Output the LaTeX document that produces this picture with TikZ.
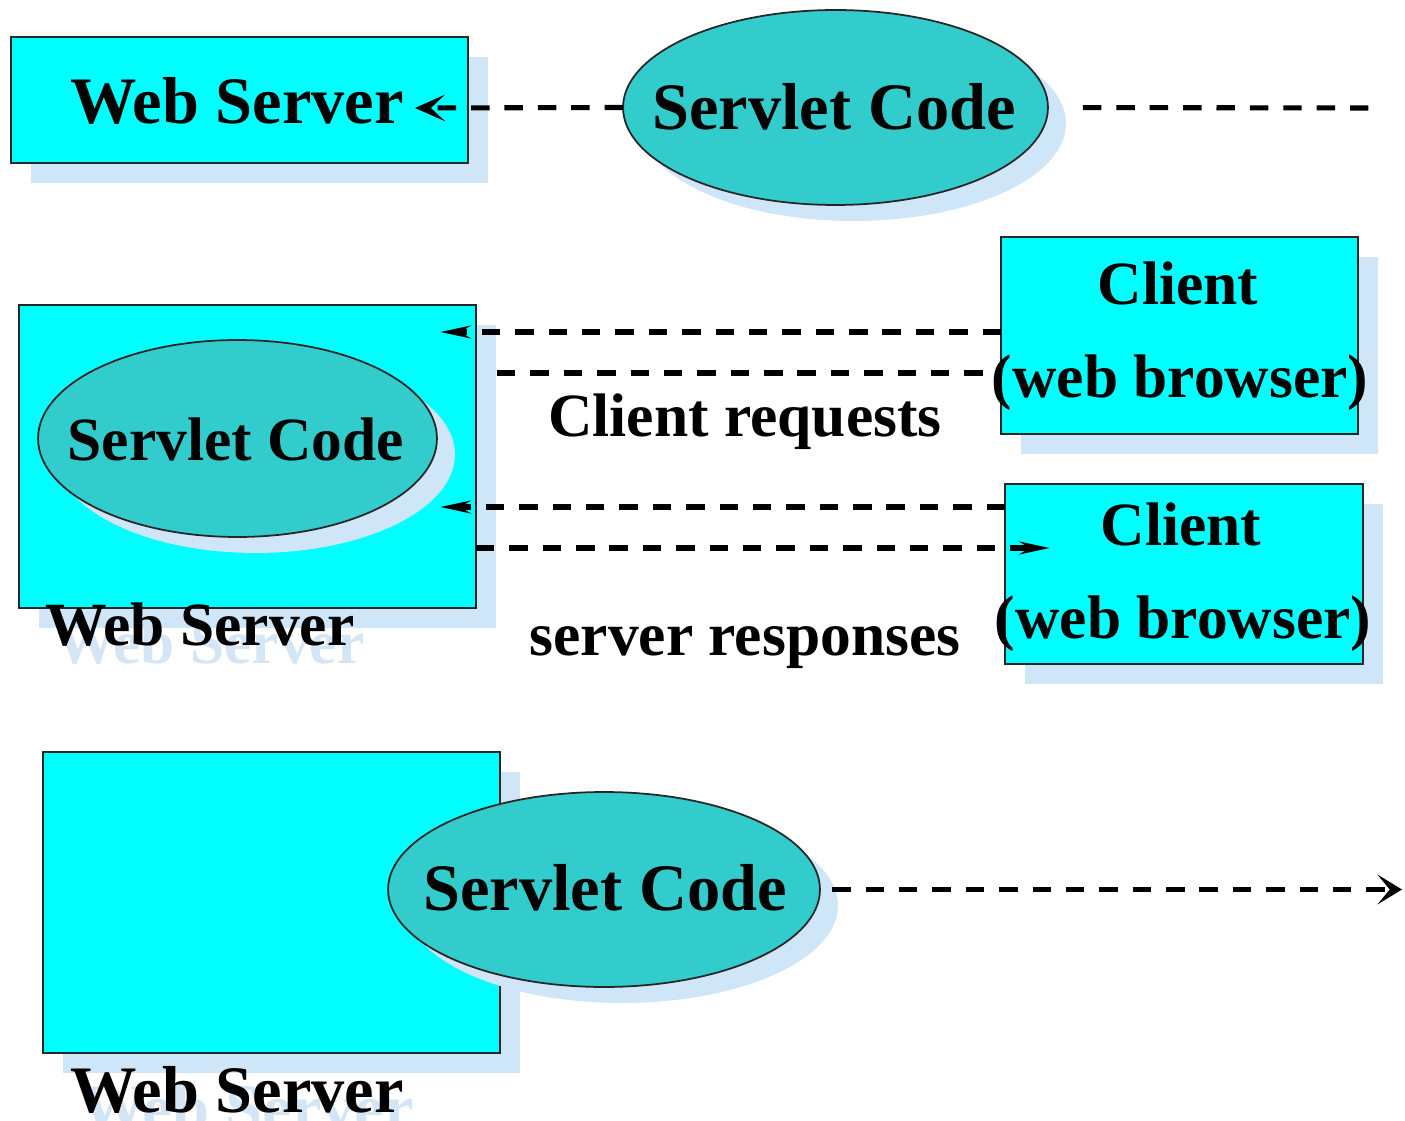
\documentclass[tikz,border=0pt]{standalone}
\usepackage{fontspec}
\setmainfont{Liberation Serif}
\usetikzlibrary{arrows.meta,shapes.geometric,shadows}

\definecolor{boxcyan}{HTML}{00FFFF}
\definecolor{servletteal}{HTML}{33CCCC}
\definecolor{shadowblue}{HTML}{CFE6F8}
\definecolor{ghosttext}{HTML}{D4E6F6}

\tikzset{
  every node/.style={inner sep=0pt, outer sep=0pt},
  softshadow/.style={drop shadow={shadow xshift=0.4cm, shadow yshift=-0.4cm,
      fill=shadowblue, opacity=1}},
  serverbox/.style={rectangle, draw=black!85, line width=1pt, fill=boxcyan, softshadow},
  servlet/.style={ellipse, draw=black!85, line width=1pt, fill=servletteal,
      drop shadow={shadow xshift=0.36cm, shadow yshift=-0.32cm, fill=shadowblue, opacity=1}},
  bigtxt/.style={anchor=base, font=\fontsize{37.8}{40}\selectfont\bfseries},
  midtxt/.style={anchor=base, font=\fontsize{35}{38}\selectfont\bfseries},
  ghost/.style={anchor=base, text=ghosttext},
  link/.style={line width=2.9pt, dash pattern=on 10.5pt off 8.5pt},
  chevron/.tip={Stealth[length=17pt, width=15pt, inset=8pt]},
  thintip/.tip={Stealth[length=17pt, width=7pt]},
}

\begin{document}
\begin{tikzpicture}[x=0.02cm, y=-0.02cm]
  \useasboundingbox[fill=white] (0,0) rectangle (1405,1121);

  % ---- servlet code being loaded into the web server ----
  \node[serverbox, minimum width=9.14cm, minimum height=2.52cm] (ws1) at (239.5,100) {};
  \node[bigtxt] (ws1t) at (237,124) {Web Server};
  \node[servlet, minimum width=8.5cm, minimum height=3.9cm] (se1) at (835.5,107.5) {};
  \node[bigtxt] (se1t) at (834,130) {Servlet Code};
  \coordinate (ws1in) at (415,108);
  \coordinate (ws1far) at (1370,108);

  % ---- servlet running inside the web server ----
  \node[midtxt, ghost] (ws2g) at (210,663) {Web Server};
  \node[serverbox, minimum width=9.14cm, minimum height=6.06cm] (ws2) at (247.5,456.5) {};
  \node[servlet, minimum width=7.98cm, minimum height=3.94cm] (se2) at (237.5,438.5) {};
  \node[midtxt] (se2t) at (236,460) {Servlet Code};
  \node[midtxt] (ws2t) at (200,645) {Web Server};

  \node[serverbox, minimum width=7.14cm, minimum height=3.94cm] (c1) at (1179.5,335.5) {};
  \node[midtxt] (c1t) at (1178,305) {Client};
  \node[midtxt] (c1b) at (1180,398) {(web browser)};

  \node[serverbox, minimum width=7.16cm, minimum height=3.6cm] (c2) at (1184,574) {};
  \node[midtxt] (c2t) at (1181,545) {Client};
  \node[midtxt] (c2b) at (1183,638) {(web browser)};

  \node[midtxt] (req) at (745,437) {Client requests};
  \node[midtxt] (resp) at (745,655) {server responses};

  \coordinate (in1) at (440,332);
  \coordinate (out1) at (497,373);
  \coordinate (in2) at (440,507);
  \coordinate (out2) at (1050,548);

  % ---- servlet being unloaded from the web server ----
  \node[bigtxt, ghost] (ws3g) at (247,1130) {Web Server};
  \node[serverbox, minimum width=9.14cm, minimum height=6.02cm] (ws3) at (271.5,902.5) {};
  \node[servlet, minimum width=8.64cm, minimum height=3.9cm] (se3) at (604,889.5) {};
  \node[bigtxt] (se3t) at (605,910) {Servlet Code};
  \node[bigtxt] (ws3t) at (237,1112) {Web Server};
  \coordinate (away) at (1402,889.5);

  % ---- connectors ----
  \draw[link, -chevron] (se1.west) -- (ws1in);
  \draw[link, shorten <=0.7cm] (se1.east) -- (ws1far);

  \draw[link, -thintip] (c1.west |- in1) -- (in1);
  \draw[link] (out1) -- (c1b.west |- out1);
  \draw[link, -thintip] (c2.west |- in2) -- (in2);
  \draw[link, -thintip] (ws2.east |- out2) -- (out2);

  \draw[link, -{Stealth[length=14pt, width=17pt, inset=7pt]}, shorten <=7pt] (se3.east) -- (away);
\end{tikzpicture}
\end{document}
